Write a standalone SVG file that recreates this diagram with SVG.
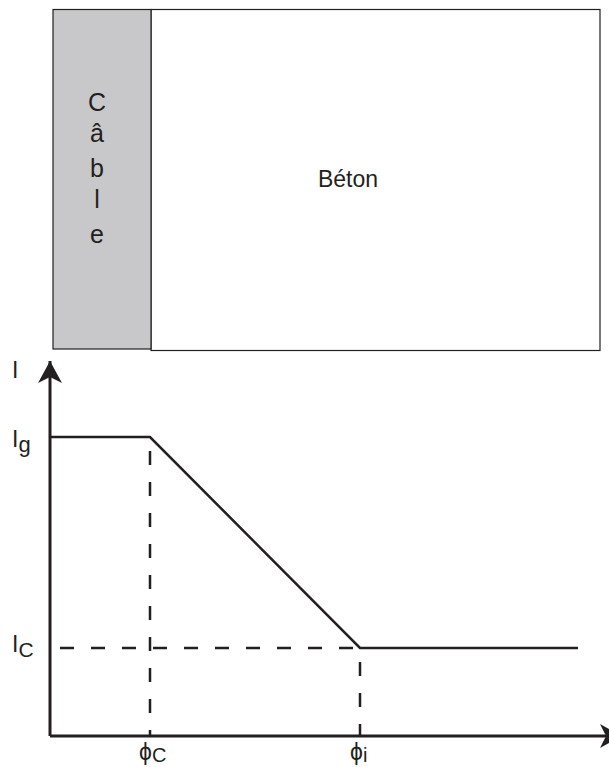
<svg xmlns="http://www.w3.org/2000/svg" width="609" height="767" viewBox="0 0 609 767">
<style>
text{font-family:"Liberation Sans",Arial,sans-serif;fill:#231f20}
.t{font-size:23px}
.c{font-size:25px}
.ax{stroke:#231f20;stroke-width:3;fill:none}
.ln{stroke:#231f20;stroke-width:2.5;fill:none}
.da{stroke:#231f20;stroke-width:2.5;fill:none;stroke-dasharray:14,17}
</style>
<defs>
<marker id="arr" markerUnits="userSpaceOnUse" markerWidth="26" markerHeight="26" refX="22" refY="12" orient="auto">
<path d="M0,0 L22,12 L0,24 L6,12 Z" fill="#231f20"/>
</marker>
</defs>
<rect width="609" height="767" fill="#fff"/>
<g id="beton">
<rect x="151" y="9.5" width="449" height="341" fill="#fff" stroke="#231f20" stroke-width="1.2"/>
<text class="t" x="348" y="187" text-anchor="middle" font-size="24">Béton</text>
</g>
<g id="cable">
<rect x="53" y="9.5" width="98" height="339.5" fill="#c8c8ca" stroke="#231f20" stroke-width="1.2"/>
<text class="c" text-anchor="middle"><tspan x="97" y="111">C</tspan><tspan x="97" y="142">â</tspan><tspan x="97" y="177">b</tspan><tspan x="97" y="208">l</tspan><tspan x="97" y="243">e</tspan></text>
</g>
<g id="connectors">
<line class="ax" x1="50" y1="736" x2="50" y2="361" marker-end="url(#arr)"/>
<line class="ax" x1="50" y1="736" x2="622" y2="736" marker-end="url(#arr)"/>
<polyline class="ln" points="50,437 150,437 360,648 578,648"/>
<line class="da" x1="150" y1="437" x2="150" y2="736" stroke-dashoffset="-14"/>
<line class="da" x1="360" y1="648" x2="360" y2="736" stroke-dashoffset="-14"/>
<line class="da" x1="60" y1="648" x2="360" y2="648"/>
</g>
<g id="labels">
<text class="t" x="12" y="378" font-size="24">I</text>
<text class="t" x="12" y="447" font-size="24">I<tspan font-size="22" dy="5">g</tspan></text>
<text class="t" x="12" y="652" font-size="24">I<tspan font-size="21" dy="5">C</tspan></text>
<text class="t" x="139" y="760">ϕ<tspan font-size="20" dy="2">C</tspan></text>
<text class="t" x="350" y="760">ϕ<tspan font-size="20" dy="2">i</tspan></text>
</g>
</svg>
